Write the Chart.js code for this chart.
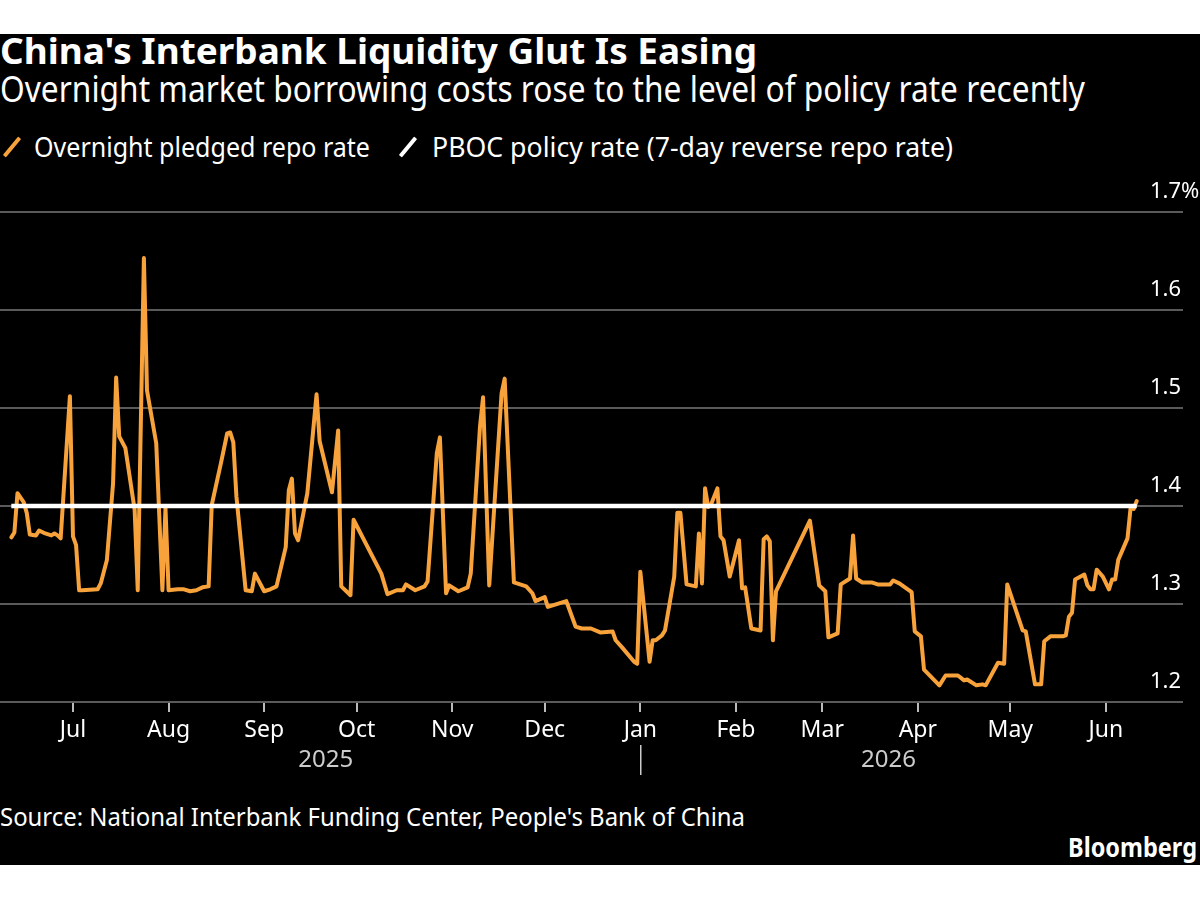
<!DOCTYPE html>
<html><head><meta charset="utf-8">
<script src="https://cdn.jsdelivr.net/npm/chart.js@4.4.1/dist/chart.umd.min.js"></script>
<style>
html,body{margin:0;padding:0;background:#fff;width:1200px;height:900px;overflow:hidden;}
#panel{position:absolute;left:0;top:34px;width:1200px;height:831px;background:#000;}
.t{position:absolute;white-space:nowrap;color:#fff;font-family:"Noto Sans",sans-serif;line-height:1;transform-origin:0 0;}
.sl{position:absolute;width:4px;height:24px;transform:rotate(40deg);border-radius:1px;}
#c{position:absolute;left:0;top:170px;}
</style></head><body>
<div id="panel"></div>
<div class="t" style="left:0;top:33px;font-size:36px;font-weight:700" data-w="757">China's Interbank Liquidity Glut Is Easing</div>
<div class="t" style="left:0;top:71px;font-size:36px" data-w="1085">Overnight market borrowing costs rose to the level of policy rate recently</div>
<div class="sl" style="left:10px;top:135px;background:#f7a23b"></div>
<div class="t" style="left:34px;top:132px;font-size:28px" data-w="336">Overnight pledged repo rate</div>
<div class="sl" style="left:406px;top:135px;background:#fff"></div>
<div class="t" style="left:432px;top:132px;font-size:28px" data-w="521">PBOC policy rate (7-day reverse repo rate)</div>
<div class="t" style="left:0;top:803px;font-size:26px" data-w="745">Source: National Interbank Funding Center, People's Bank of China</div>
<div class="t" style="left:1068px;top:834px;font-size:26px;font-weight:700" data-w="129">Bloomberg</div>
<canvas id="c" width="1200" height="620"></canvas>
<script>
// ---- data ----
const repoDates = [
'2025-06-11','2025-06-12','2025-06-13','2025-06-15','2025-06-16','2025-06-17','2025-06-19','2025-06-20','2025-06-22','2025-06-24',
'2025-06-25','2025-06-26','2025-06-27','2025-06-30','2025-07-01','2025-07-02','2025-07-03','2025-07-04','2025-07-09','2025-07-10',
'2025-07-12','2025-07-14','2025-07-15','2025-07-16','2025-07-18','2025-07-21','2025-07-22','2025-07-24','2025-07-25','2025-07-28',
'2025-07-30','2025-07-31','2025-08-01','2025-08-04','2025-08-06','2025-08-08','2025-08-10','2025-08-12','2025-08-14','2025-08-15',
'2025-08-18','2025-08-20','2025-08-21','2025-08-22','2025-08-23','2025-08-26','2025-08-28','2025-08-29','2025-09-01','2025-09-03',
'2025-09-05','2025-09-08','2025-09-09','2025-09-10','2025-09-11','2025-09-12','2025-09-15','2025-09-18','2025-09-19','2025-09-23',
'2025-09-25','2025-09-26','2025-09-29','2025-09-30','2025-10-09','2025-10-11','2025-10-14','2025-10-16','2025-10-17','2025-10-20',
'2025-10-23','2025-10-24','2025-10-27','2025-10-28','2025-10-30','2025-10-31','2025-11-03','2025-11-06','2025-11-07','2025-11-10',
'2025-11-11','2025-11-13','2025-11-17','2025-11-18','2025-11-21','2025-11-25','2025-11-27','2025-11-28','2025-12-01','2025-12-02',
'2025-12-08','2025-12-11','2025-12-13','2025-12-16','2025-12-19','2025-12-23','2025-12-24','2025-12-26','2025-12-30','2025-12-31',
'2026-01-01','2026-01-04','2026-01-05','2026-01-06','2026-01-08','2026-01-09','2026-01-12','2026-01-13','2026-01-14','2026-01-16',
'2026-01-19','2026-01-20','2026-01-21','2026-01-22','2026-01-23','2026-01-24','2026-01-26','2026-01-27','2026-01-28','2026-01-30',
'2026-02-02','2026-02-03','2026-02-04','2026-02-06','2026-02-09','2026-02-10','2026-02-11','2026-02-12','2026-02-13','2026-02-14',
'2026-02-25','2026-02-28','2026-03-02','2026-03-03','2026-03-06','2026-03-07','2026-03-10','2026-03-11','2026-03-12','2026-03-14',
'2026-03-17','2026-03-19','2026-03-23','2026-03-24','2026-03-26','2026-03-30','2026-03-31','2026-04-02','2026-04-03','2026-04-08',
'2026-04-10','2026-04-14','2026-04-16','2026-04-17','2026-04-20','2026-04-22','2026-04-23','2026-04-27','2026-04-29','2026-04-30',
'2026-05-05','2026-05-06','2026-05-09','2026-05-11','2026-05-12','2026-05-14','2026-05-18','2026-05-19','2026-05-20','2026-05-21',
'2026-05-22','2026-05-25','2026-05-26','2026-05-27','2026-05-28','2026-05-29','2026-05-31','2026-06-02','2026-06-03','2026-06-04',
'2026-06-05','2026-06-08','2026-06-09','2026-06-10','2026-06-11'
];
const repoRate = [
1.368,1.373,1.413,1.404,1.393,1.371,1.370,1.375,1.372,1.370,
1.372,1.370,1.367,1.512,1.369,1.360,1.314,1.314,1.315,1.321,
1.345,1.423,1.531,1.471,1.459,1.396,1.314,1.653,1.518,1.464,
1.314,1.398,1.314,1.315,1.315,1.313,1.314,1.317,1.318,1.401,
1.444,1.474,1.475,1.465,1.410,1.314,1.313,1.331,1.313,1.315,
1.318,1.358,1.416,1.428,1.372,1.365,1.413,1.514,1.466,1.414,
1.477,1.318,1.309,1.386,1.331,1.310,1.314,1.314,1.320,1.314,
1.318,1.323,1.454,1.470,1.311,1.319,1.313,1.317,1.331,1.481,
1.511,1.319,1.515,1.530,1.322,1.318,1.311,1.303,1.307,1.297,
1.303,1.277,1.275,1.275,1.271,1.272,1.263,1.256,1.241,1.239,
1.333,1.241,1.263,1.263,1.268,1.273,1.328,1.393,1.393,1.320,
1.318,1.372,1.321,1.418,1.399,1.402,1.418,1.369,1.365,1.328,
1.365,1.316,1.317,1.275,1.273,1.366,1.369,1.364,1.263,1.313,
1.385,1.319,1.313,1.266,1.270,1.320,1.326,1.370,1.326,1.322,
1.322,1.320,1.320,1.324,1.321,1.312,1.272,1.267,1.233,1.217,
1.227,1.227,1.222,1.223,1.217,1.218,1.217,1.240,1.239,1.320,
1.273,1.272,1.218,1.218,1.262,1.267,1.267,1.268,1.287,1.291,
1.325,1.330,1.319,1.315,1.315,1.335,1.328,1.315,1.325,1.325,
1.345,1.367,1.398,1.397,1.405
];
const policyDates = ['2025-06-11','2026-06-11'];
const policyRate = [1.40, 1.40];
const monthTickDates = ['2025-07-01','2025-08-01','2025-09-01','2025-10-01','2025-11-01','2025-12-01',
  '2026-01-01','2026-02-01','2026-03-01','2026-04-01','2026-05-01','2026-06-01'];
const monthLabels = ['Jul','Aug','Sep','Oct','Nov','Dec','Jan','Feb','Mar','Apr','May','Jun'];
const yearLabels = ['2025','2026'];
const yearBreakDate = '2026-01-01';
const yTickValues = [1.2,1.3,1.4,1.5,1.6,1.7];
const yTickLabels = ['1.2','1.3','1.4','1.5','1.6','1.7%'];

// ---- text fitting ----
document.querySelectorAll('[data-w]').forEach(el=>{
  const w = el.getBoundingClientRect().width;
  el.style.transform = 'scaleX(' + (+el.dataset.w / w) + ')';
});

// ---- chart ----
const START = Date.UTC(2025,6,1);
const dayOf = s => { const p = s.split('-').map(Number); return (Date.UTC(p[0],p[1]-1,p[2]) - START) / 86400000; };
const repoData = repoDates.map((d,i)=>({x:dayOf(d), y:repoRate[i]}));
const policyData = policyDates.map((d,i)=>({x:dayOf(d), y:policyRate[i]}));
const monthTickDays = monthTickDates.map(dayOf);
const breakDay = dayOf(yearBreakDate);
const firstDay = dayOf(repoDates[0]), lastDay = dayOf(repoDates[repoDates.length-1]);
const yearTicks = [(firstDay+breakDay)/2, breakDay, (breakDay+lastDay)/2];
const yearTickLabels = [yearLabels[0], '', yearLabels[1]];
const X_MIN = -23.67, X_MAX = 360;

const FONT = '"Noto Sans", sans-serif';
const Y_FONT_SIZE = 22;
const mctx = document.createElement('canvas').getContext('2d');
mctx.font = Y_FONT_SIZE + 'px ' + FONT;
const widestY = Math.max(...yTickLabels.map(l=>mctx.measureText(l).width));
const Y_LABEL_LEFT = 1150, AREA_RIGHT = 1183;

Chart.defaults.font.family = FONT;
new Chart(document.getElementById('c'), {
  type: 'line',
  data: { datasets: [
    { label:'Overnight pledged repo rate', data: repoData, borderColor:'#f7a23b', borderWidth:4,
      pointRadius:0, tension:0, order:2, borderJoinStyle:'round', borderCapStyle:'round' },
    { label:'PBOC policy rate (7-day reverse repo rate)', data: policyData, borderColor:'#ffffff', borderWidth:4.5,
      pointRadius:0, tension:0, order:1 }
  ]},
  options: {
    responsive:false, animation:false,
    layout:{ padding:{ top:42, right:1200-AREA_RIGHT, bottom:5, left:0 } },
    plugins:{ legend:{display:false}, tooltip:{enabled:false} },
    scales:{
      x:{ type:'linear', min:X_MIN, max:X_MAX, position:'bottom', weight:0,
        afterBuildTicks: s => { s.ticks = monthTickDays.map(v=>({value:v})); },
        afterFit: s => { s.height = 43; },
        ticks:{ autoSkip:false, maxRotation:0, padding:5, color:'#ffffff', font:{size:23},
          callback:(v,i)=>monthLabels[i] },
        grid:{ drawOnChartArea:false, drawTicks:true, tickLength:10, color:'#bbbbbb', lineWidth:2 },
        border:{ display:false }
      },
      x2:{ type:'linear', min:X_MIN, max:X_MAX, position:'bottom', weight:1,
        afterBuildTicks: s => { s.ticks = yearTicks.map(v=>({value:v})); },
        afterFit: s => { s.height = 40; },
        ticks:{ autoSkip:false, maxRotation:0, padding:-29, color:'#cccccc', font:{size:24},
          callback:(v,i)=>yearTickLabels[i] },
        grid:{ drawOnChartArea:false, drawTicks:true, tickLength:30, lineWidth:1.5,
          color: ctx => ctx.index === 1 ? '#cccccc' : 'rgba(0,0,0,0)' },
        border:{ display:false }
      },
      y:{ type:'linear', position:'right', min:1.2, max:1.7,
        afterBuildTicks: s => { s.ticks = yTickValues.map(v=>({value:v})); },
        afterFit: s => { s.width = 0; },
        ticks:{ mirror:true, crossAlign:'far', padding: Y_LABEL_LEFT - AREA_RIGHT + widestY,
          labelOffset:-20, color:'#ffffff', font:{size:Y_FONT_SIZE},
          callback:(v,i)=>yTickLabels[i] },
        grid:{ drawTicks:false, color:'#5a5a5a', lineWidth:2 },
        border:{ display:false }
      }
    }
  }
});
</script>
</body></html>
